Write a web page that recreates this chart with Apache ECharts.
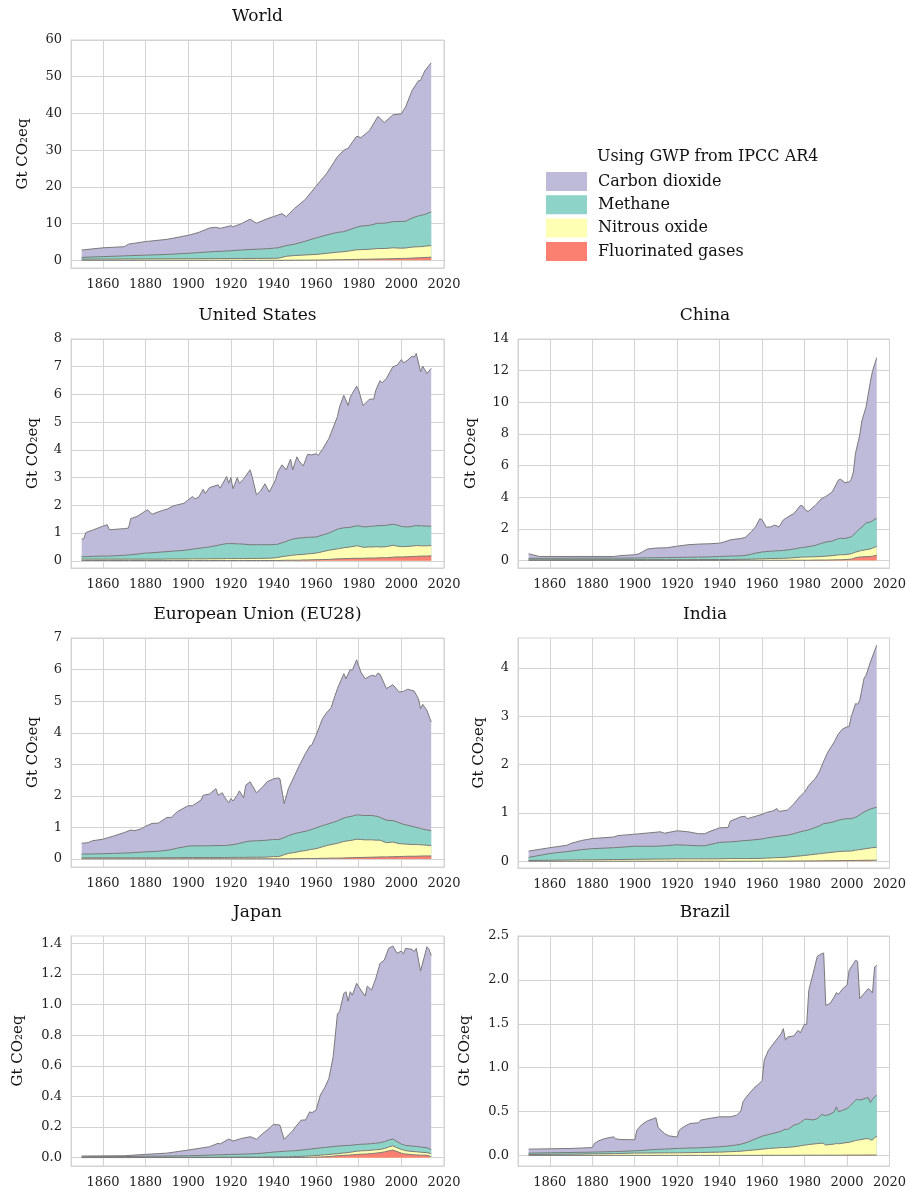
<!DOCTYPE html>
<html>
<head>
<meta charset="utf-8">
<script src="https://cdn.jsdelivr.net/npm/echarts@6/dist/echarts.min.js"></script>
<style>
html,body{margin:0;padding:0;background:#fff;}
#chart{width:909px;height:1189px;}
</style>
</head>
<body>
<div id="chart"></div>
<script>
// ---------- DATA (Gt CO2eq, GWP from IPCC AR4) ----------
const GASES = ['Carbon dioxide', 'Methane', 'Nitrous oxide', 'Fluorinated gases'];
const X_TICKS = [1860, 1880, 1900, 1920, 1940, 1960, 1980, 2000, 2020];

const WORLD_YEARS = [1850,1860,1870,1872,1880,1890,1900,1905,1910,1913,1915,1920,1921,1925,1929,1932,1937,1940,1942,1944,1946,1950,1955,1960,1965,1970,1973,1975,1979,1981,1985,1989,1992,1996,2000,2002,2005,2008,2009,2011,2014];
const WORLD_CO2 = [2.0,2.4,2.5,3.15,3.7,4.1,4.9,5.5,6.5,6.6,6.25,6.8,6.45,7.2,8.25,7.1,8.15,8.6,8.9,9.0,7.9,9.8,11.4,14.1,16.8,20.6,22.2,22.3,24.8,24.1,25.8,29.1,27.4,29.1,29.3,31.2,34.7,36.8,36.8,39.1,40.6];
const WORLD_CH4 = [0.5,0.68,0.85,0.9,1.02,1.2,1.48,1.66,1.85,1.94,1.98,2.12,2.17,2.3,2.45,2.48,2.62,2.75,2.84,2.9,2.9,3.1,3.75,4.5,5.0,5.4,5.45,5.7,6.15,6.4,6.5,6.9,6.9,7.1,7.3,7.25,7.9,8.4,8.5,8.65,9.2];
const WORLD_N2O = [0.3,0.32,0.35,0.35,0.38,0.4,0.42,0.44,0.45,0.46,0.47,0.48,0.48,0.5,0.5,0.52,0.53,0.55,0.56,0.8,1.09,1.28,1.41,1.54,1.8,2.05,2.17,2.3,2.61,2.64,2.7,2.85,2.82,2.97,2.8,2.83,3.0,3.02,3.0,3.1,3.15];
const WORLD_FGAS = [0,0,0,0,0,0,0,0,0,0,0,0,0,0,0,0,0,0,0,0,0.01,0.02,0.04,0.06,0.1,0.15,0.18,0.2,0.24,0.26,0.3,0.35,0.38,0.43,0.5,0.52,0.6,0.68,0.7,0.75,0.85];
const WORLD_YTICKS = [0,10,20,30,40,50,60];

const US_YEARS = [1850,1851,1852,1855,1860,1862,1863,1870,1872,1873,1876,1880,1881,1883,1888,1890,1893,1898,1902,1903,1905,1907,1908,1910,1914,1915,1918,1919,1920,1921,1923,1924,1926,1929,1930,1932,1934,1936,1938,1941,1942,1944,1946,1948,1949,1951,1952,1954,1956,1958,1960,1961,1963,1966,1970,1971,1973,1975,1976,1979,1980,1982,1983,1985,1987,1988,1990,1991,1993,1996,1998,2000,2001,2003,2005,2006,2007,2009,2010,2012,2014];
const US_CO2 = [0.63,0.65,0.87,0.94,1.08,1.13,0.95,0.96,0.97,1.30,1.36,1.52,1.56,1.39,1.50,1.53,1.63,1.70,1.90,1.80,1.85,2.11,1.95,2.14,2.18,2.04,2.42,2.18,2.38,1.98,2.39,2.19,2.35,2.70,2.46,1.80,1.94,2.20,1.90,2.33,2.60,2.81,2.58,2.91,2.50,2.94,2.78,2.59,2.99,2.97,3.00,2.92,3.09,3.41,4.06,4.39,4.78,4.40,4.69,5.04,4.89,4.37,4.45,4.59,4.58,4.89,5.23,5.15,5.30,5.68,5.76,6.02,5.91,6.02,6.14,6.09,6.21,5.56,5.76,5.51,5.69];
const US_CH4 = [0.09,0.09,0.09,0.10,0.11,0.11,0.11,0.14,0.15,0.16,0.18,0.22,0.22,0.23,0.26,0.265,0.285,0.31,0.35,0.36,0.38,0.40,0.41,0.425,0.485,0.505,0.54,0.54,0.54,0.54,0.53,0.53,0.52,0.495,0.495,0.495,0.495,0.49,0.49,0.48,0.48,0.50,0.53,0.57,0.58,0.59,0.60,0.60,0.60,0.59,0.58,0.59,0.60,0.62,0.71,0.72,0.72,0.71,0.71,0.72,0.73,0.74,0.73,0.74,0.75,0.75,0.77,0.77,0.77,0.76,0.76,0.73,0.72,0.70,0.71,0.72,0.72,0.72,0.72,0.71,0.70];
const US_N2O = [0.05,0.05,0.05,0.05,0.05,0.05,0.05,0.05,0.05,0.05,0.05,0.05,0.05,0.05,0.05,0.055,0.055,0.055,0.06,0.06,0.06,0.06,0.06,0.065,0.065,0.065,0.07,0.07,0.07,0.07,0.07,0.07,0.07,0.075,0.075,0.075,0.075,0.08,0.08,0.10,0.11,0.135,0.15,0.17,0.18,0.20,0.20,0.20,0.22,0.225,0.24,0.25,0.285,0.33,0.36,0.37,0.39,0.41,0.415,0.45,0.44,0.40,0.395,0.40,0.40,0.41,0.39,0.39,0.40,0.43,0.39,0.37,0.37,0.37,0.38,0.38,0.39,0.37,0.37,0.37,0.37];
const US_FGAS = [0.01,0.01,0.01,0.01,0.01,0.01,0.01,0.01,0.01,0.01,0.01,0.01,0.01,0.01,0.01,0.01,0.01,0.01,0.01,0.01,0.01,0.01,0.01,0.01,0.01,0.01,0.01,0.01,0.01,0.01,0.01,0.01,0.01,0.01,0.01,0.01,0.01,0.01,0.01,0.01,0.01,0.015,0.02,0.02,0.02,0.02,0.02,0.03,0.03,0.035,0.04,0.04,0.045,0.05,0.07,0.07,0.08,0.08,0.085,0.09,0.09,0.09,0.095,0.10,0.10,0.10,0.11,0.11,0.11,0.13,0.14,0.14,0.14,0.15,0.15,0.16,0.16,0.17,0.17,0.17,0.18];
const US_YTICKS = [0,1,2,3,4,5,6,7,8];

const CHINA_YEARS = [1850,1855,1870,1890,1893,1900,1902,1906,1910,1915,1920,1925,1930,1935,1940,1942,1945,1950,1952,1955,1957,1959,1960,1962,1964,1966,1968,1970,1973,1975,1978,1979,1981,1982,1985,1988,1990,1993,1996,1997,1999,2001,2002,2003,2004,2006,2007,2009,2011,2012,2014];
const CHINA_CO2 = [0.29,0.12,0.11,0.105,0.155,0.21,0.265,0.555,0.61,0.62,0.71,0.79,0.82,0.83,0.84,0.90,1.03,1.10,1.14,1.43,1.68,2.14,2.03,1.54,1.54,1.63,1.51,1.93,2.14,2.24,2.67,2.63,2.26,2.26,2.52,2.83,2.88,3.11,3.71,3.73,3.54,3.50,3.64,3.99,5.02,5.93,6.73,7.33,8.87,9.46,10.15];
const CHINA_CH4 = [0.09,0.09,0.095,0.095,0.095,0.10,0.105,0.115,0.12,0.13,0.14,0.15,0.155,0.165,0.19,0.20,0.21,0.22,0.24,0.32,0.37,0.41,0.43,0.45,0.46,0.48,0.48,0.50,0.53,0.55,0.60,0.61,0.64,0.65,0.72,0.83,0.89,0.92,1.03,1.04,1.02,1.06,1.07,1.13,1.23,1.40,1.48,1.70,1.70,1.72,1.79];
const CHINA_N2O = [0.04,0.04,0.045,0.05,0.05,0.05,0.05,0.05,0.05,0.05,0.05,0.05,0.055,0.055,0.06,0.06,0.06,0.06,0.06,0.07,0.08,0.09,0.09,0.10,0.11,0.11,0.12,0.12,0.14,0.16,0.19,0.20,0.20,0.21,0.21,0.23,0.25,0.27,0.31,0.32,0.31,0.33,0.34,0.35,0.35,0.38,0.40,0.44,0.47,0.51,0.56];
const CHINA_FGAS = [0,0,0,0,0,0,0,0,0,0,0,0,0,0,0,0,0,0.01,0.01,0.01,0.01,0.01,0.01,0.01,0.01,0.01,0.01,0.01,0.01,0.01,0.01,0.01,0.01,0.01,0.02,0.02,0.02,0.03,0.04,0.04,0.05,0.07,0.08,0.12,0.17,0.22,0.22,0.24,0.25,0.27,0.32];
const CHINA_YTICKS = [0,2,4,6,8,10,12,14];

const EU_YEARS = [1850,1853,1855,1860,1865,1870,1873,1875,1878,1880,1883,1886,1890,1892,1895,1900,1902,1906,1907,1910,1913,1914,1916,1917,1919,1920,1921,1923,1924,1926,1927,1929,1932,1935,1937,1940,1942,1943,1945,1947,1950,1952,1955,1957,1958,1960,1963,1965,1967,1970,1973,1974,1976,1977,1979,1981,1983,1986,1988,1989,1990,1993,1996,1999,2001,2003,2006,2008,2009,2010,2012,2014];
const EU_CO2 = [0.34,0.36,0.415,0.46,0.55,0.65,0.72,0.69,0.74,0.81,0.89,0.89,1.04,1.02,1.16,1.28,1.27,1.45,1.60,1.64,1.80,1.59,1.67,1.54,1.34,1.47,1.38,1.54,1.66,1.41,1.79,1.88,1.52,1.70,1.85,1.92,1.95,1.92,1.08,1.49,1.85,2.11,2.46,2.66,2.67,2.93,3.39,3.54,3.65,4.19,4.57,4.39,4.65,4.62,4.91,4.53,4.33,4.44,4.43,4.54,4.53,4.17,4.30,4.14,4.21,4.31,4.30,4.09,3.79,3.95,3.79,3.44];
const EU_CH4 = [0.12,0.12,0.125,0.13,0.14,0.15,0.16,0.17,0.18,0.19,0.20,0.21,0.235,0.255,0.305,0.36,0.37,0.37,0.37,0.37,0.38,0.38,0.38,0.38,0.39,0.395,0.405,0.425,0.445,0.475,0.495,0.51,0.52,0.53,0.535,0.54,0.54,0.54,0.54,0.56,0.60,0.60,0.61,0.62,0.63,0.66,0.67,0.67,0.68,0.71,0.74,0.75,0.76,0.76,0.77,0.77,0.77,0.77,0.76,0.75,0.72,0.71,0.68,0.66,0.62,0.60,0.56,0.53,0.52,0.50,0.48,0.47];
const EU_N2O = [0.03,0.03,0.03,0.03,0.03,0.03,0.03,0.03,0.03,0.03,0.03,0.03,0.035,0.035,0.035,0.04,0.04,0.04,0.04,0.04,0.04,0.04,0.04,0.04,0.04,0.045,0.045,0.045,0.045,0.045,0.045,0.05,0.05,0.05,0.055,0.07,0.07,0.08,0.13,0.17,0.195,0.225,0.25,0.28,0.29,0.31,0.365,0.405,0.43,0.47,0.525,0.53,0.55,0.555,0.58,0.57,0.555,0.55,0.535,0.535,0.53,0.45,0.465,0.41,0.395,0.38,0.37,0.365,0.355,0.35,0.34,0.33];
const EU_FGAS = [0.01,0.01,0.01,0.01,0.01,0.01,0.01,0.01,0.01,0.01,0.01,0.01,0.01,0.01,0.01,0.01,0.01,0.01,0.01,0.01,0.01,0.01,0.01,0.01,0.01,0.01,0.01,0.01,0.01,0.01,0.01,0.01,0.01,0.01,0.01,0.01,0.01,0.01,0.01,0.01,0.015,0.015,0.02,0.02,0.02,0.02,0.025,0.025,0.03,0.03,0.035,0.04,0.04,0.045,0.05,0.05,0.055,0.06,0.065,0.065,0.07,0.07,0.075,0.08,0.085,0.09,0.09,0.095,0.095,0.10,0.10,0.10];
const EU_YTICKS = [0,1,2,3,4,5,6,7];

const INDIA_YEARS = [1850,1860,1868,1870,1875,1880,1890,1892,1900,1910,1912,1914,1920,1925,1930,1933,1935,1938,1940,1944,1945,1950,1952,1953,1960,1962,1965,1967,1968,1972,1975,1978,1980,1982,1985,1987,1989,1991,1994,1996,1998,2000,2001,2002,2004,2005,2006,2008,2009,2011,2014];
const INDIA_CO2 = [0.13,0.12,0.13,0.16,0.19,0.21,0.22,0.245,0.25,0.29,0.295,0.26,0.29,0.28,0.25,0.25,0.27,0.29,0.30,0.30,0.43,0.50,0.50,0.45,0.51,0.53,0.54,0.58,0.51,0.52,0.62,0.74,0.80,0.92,1.01,1.12,1.29,1.47,1.65,1.79,1.87,1.90,1.91,2.11,2.35,2.32,2.37,2.76,2.81,3.04,3.35];
const INDIA_CH4 = [0.065,0.14,0.175,0.185,0.21,0.23,0.245,0.25,0.27,0.265,0.27,0.275,0.29,0.28,0.27,0.27,0.29,0.32,0.34,0.345,0.345,0.365,0.375,0.375,0.40,0.415,0.43,0.435,0.445,0.455,0.47,0.50,0.51,0.52,0.555,0.575,0.615,0.615,0.63,0.65,0.665,0.67,0.67,0.67,0.68,0.695,0.72,0.765,0.78,0.805,0.83];
const INDIA_N2O = [0.015,0.02,0.025,0.025,0.03,0.03,0.035,0.035,0.04,0.045,0.045,0.045,0.05,0.05,0.05,0.05,0.05,0.05,0.05,0.055,0.055,0.055,0.055,0.055,0.058,0.063,0.068,0.073,0.073,0.082,0.096,0.105,0.115,0.124,0.138,0.147,0.156,0.165,0.179,0.188,0.192,0.196,0.196,0.195,0.214,0.218,0.222,0.236,0.24,0.255,0.268];
const INDIA_FGAS = [0,0,0,0,0,0,0,0,0,0,0,0,0,0,0,0,0,0,0,0,0,0,0,0,0.002,0.002,0.002,0.002,0.002,0.003,0.004,0.005,0.005,0.006,0.007,0.008,0.009,0.01,0.011,0.012,0.013,0.014,0.014,0.015,0.016,0.017,0.018,0.019,0.02,0.02,0.022];
const INDIA_YTICKS = [0,1,2,3,4];

const JAPAN_YEARS = [1850,1870,1880,1890,1900,1905,1910,1914,1915,1919,1921,1925,1929,1930,1932,1935,1938,1940,1943,1945,1947,1949,1951,1953,1955,1957,1958,1960,1962,1964,1966,1968,1970,1971,1973,1974,1975,1976,1977,1979,1981,1983,1984,1986,1988,1990,1992,1994,1996,1998,2000,2001,2002,2005,2006,2007,2009,2012,2013,2014];
const JAPAN_CO2 = [0.005,0.005,0.012,0.019,0.037,0.046,0.055,0.075,0.071,0.101,0.087,0.103,0.112,0.107,0.093,0.129,0.158,0.181,0.173,0.078,0.104,0.131,0.166,0.196,0.193,0.244,0.236,0.250,0.345,0.390,0.448,0.587,0.862,0.877,0.994,1.004,0.943,1.003,0.980,1.053,1.007,0.967,1.031,1.003,1.076,1.171,1.186,1.252,1.261,1.230,1.261,1.245,1.287,1.285,1.271,1.293,1.149,1.313,1.300,1.267];
const JAPAN_CH4 = [0.004,0.006,0.007,0.008,0.010,0.012,0.014,0.016,0.016,0.017,0.018,0.019,0.021,0.022,0.023,0.026,0.029,0.032,0.035,0.036,0.038,0.038,0.039,0.041,0.043,0.044,0.045,0.046,0.047,0.048,0.049,0.049,0.050,0.049,0.048,0.048,0.046,0.045,0.044,0.044,0.043,0.043,0.043,0.043,0.043,0.044,0.045,0.045,0.044,0.040,0.035,0.035,0.034,0.035,0.035,0.035,0.034,0.032,0.030,0.026];
const JAPAN_N2O = [0.001,0.001,0.002,0.002,0.002,0.002,0.002,0.002,0.002,0.003,0.003,0.003,0.003,0.003,0.003,0.003,0.004,0.004,0.004,0.005,0.005,0.005,0.006,0.007,0.008,0.009,0.010,0.011,0.012,0.013,0.013,0.014,0.013,0.014,0.016,0.016,0.017,0.018,0.019,0.021,0.022,0.022,0.022,0.022,0.022,0.021,0.022,0.025,0.028,0.025,0.024,0.023,0.022,0.021,0.021,0.021,0.019,0.017,0.018,0.019];
const JAPAN_FGAS = [0.001,0.001,0.001,0.001,0.001,0.001,0.001,0.001,0.001,0.001,0.001,0.001,0.001,0.001,0.001,0.001,0.001,0.001,0.001,0.001,0.001,0.002,0.002,0.002,0.002,0.003,0.003,0.004,0.005,0.006,0.008,0.010,0.013,0.014,0.015,0.016,0.017,0.018,0.019,0.021,0.023,0.024,0.025,0.027,0.030,0.033,0.038,0.045,0.050,0.040,0.030,0.027,0.024,0.020,0.019,0.018,0.017,0.016,0.012,0.007];
const JAPAN_YTICKS = [0,0.2,0.4,0.6,0.8,1.0,1.2,1.4];

const BRAZIL_YEARS = [1850,1870,1880,1881,1883,1886,1890,1891,1893,1900,1901,1903,1906,1910,1911,1914,1916,1920,1921,1923,1926,1930,1931,1935,1940,1945,1948,1950,1951,1953,1956,1959,1960,1961,1963,1966,1969,1970,1971,1972,1975,1977,1978,1980,1981,1982,1984,1986,1988,1989,1990,1992,1994,1995,1996,1998,2000,2001,2003,2004,2005,2006,2008,2010,2011,2012,2013,2014];
const BRAZIL_CO2 = [0.045,0.046,0.052,0.098,0.127,0.151,0.168,0.145,0.136,0.125,0.234,0.288,0.333,0.361,0.250,0.177,0.149,0.129,0.207,0.243,0.279,0.285,0.314,0.328,0.341,0.330,0.339,0.376,0.476,0.529,0.583,0.617,0.630,0.859,0.961,1.038,1.112,1.155,1.013,1.055,1.017,1.066,1.021,1.085,1.076,1.472,1.665,1.848,1.832,1.846,1.256,1.260,1.309,1.301,1.339,1.385,1.404,1.554,1.582,1.593,1.572,1.157,1.199,1.240,1.279,1.211,1.479,1.479];
const BRAZIL_CH4 = [0.016,0.020,0.020,0.021,0.021,0.022,0.023,0.023,0.023,0.026,0.027,0.029,0.034,0.039,0.040,0.044,0.045,0.050,0.051,0.052,0.053,0.053,0.054,0.057,0.061,0.067,0.074,0.080,0.084,0.094,0.118,0.141,0.148,0.152,0.159,0.172,0.186,0.199,0.210,0.203,0.246,0.255,0.265,0.292,0.295,0.285,0.275,0.285,0.327,0.325,0.337,0.345,0.367,0.417,0.364,0.375,0.387,0.405,0.441,0.460,0.465,0.452,0.457,0.467,0.423,0.465,0.463,0.471];
const BRAZIL_N2O = [0.010,0.013,0.017,0.017,0.018,0.019,0.020,0.021,0.022,0.026,0.026,0.027,0.027,0.028,0.028,0.028,0.029,0.029,0.029,0.030,0.031,0.033,0.033,0.035,0.037,0.042,0.045,0.048,0.050,0.055,0.061,0.068,0.070,0.072,0.077,0.082,0.088,0.089,0.088,0.090,0.097,0.103,0.108,0.115,0.117,0.122,0.127,0.132,0.137,0.132,0.115,0.122,0.127,0.134,0.130,0.137,0.144,0.146,0.158,0.166,0.171,0.174,0.184,0.188,0.175,0.170,0.200,0.211];
const BRAZIL_FGAS = [0.001,0.001,0.001,0.001,0.001,0.001,0.001,0.001,0.001,0.001,0.001,0.001,0.001,0.001,0.001,0.001,0.001,0.001,0.001,0.001,0.001,0.001,0.001,0.001,0.001,0.001,0.001,0.001,0.001,0.001,0.001,0.001,0.002,0.002,0.002,0.002,0.002,0.002,0.002,0.002,0.002,0.002,0.002,0.003,0.003,0.003,0.003,0.003,0.003,0.003,0.003,0.003,0.003,0.003,0.003,0.003,0.004,0.004,0.004,0.004,0.004,0.004,0.004,0.005,0.005,0.005,0.005,0.005];
const BRAZIL_YTICKS = [0,0.5,1.0,1.5,2.0,2.5];

// ---------- LAYOUT / STYLE ----------
const FONT = '"DejaVu Serif", "Liberation Serif", serif';
const COLORS = {
  'Carbon dioxide': '#bebada',
  'Methane': '#8dd3c7',
  'Nitrous oxide': '#ffffb3',
  'Fluorinated gases': '#fb8072'
};
const GRID_COLOR = '#d3d3d3';
const EDGE_COLOR = '#7a7a7a';

const PANELS = [
  {title:'World', years:WORLD_YEARS, co2:WORLD_CO2, ch4:WORLD_CH4, n2o:WORLD_N2O, f:WORLD_FGAS, ticks:WORLD_YTICKS, dec:0,
   left:71, top:40, width:373, height:228, ymin:-2.1, ymax:60, nameGap:40},
  {title:'United States', years:US_YEARS, co2:US_CO2, ch4:US_CH4, n2o:US_N2O, f:US_FGAS, ticks:US_YTICKS, dec:0,
   left:71, top:339, width:373, height:229, ymin:-0.26, ymax:8, nameGap:30},
  {title:'China', years:CHINA_YEARS, co2:CHINA_CO2, ch4:CHINA_CH4, n2o:CHINA_N2O, f:CHINA_FGAS, ticks:CHINA_YTICKS, dec:0,
   left:518, top:339, width:374, height:229, ymin:-0.48, ymax:14, nameGap:39},
  {title:'European Union (EU28)', years:EU_YEARS, co2:EU_CO2, ch4:EU_CH4, n2o:EU_N2O, f:EU_FGAS, ticks:EU_YTICKS, dec:0,
   left:71, top:638, width:373, height:229, ymin:-0.25, ymax:7, nameGap:30},
  {title:'India', years:INDIA_YEARS, co2:INDIA_CO2, ch4:INDIA_CH4, n2o:INDIA_N2O, f:INDIA_FGAS, ticks:INDIA_YTICKS, dec:0,
   left:518, top:638, width:374, height:230, ymin:-0.14, ymax:4.62, nameGap:31},
  {title:'Japan', years:JAPAN_YEARS, co2:JAPAN_CO2, ch4:JAPAN_CH4, n2o:JAPAN_N2O, f:JAPAN_FGAS, ticks:JAPAN_YTICKS, dec:1,
   left:71, top:936, width:373, height:230, ymin:-0.054, ymax:1.448, nameGap:45},
  {title:'Brazil', years:BRAZIL_YEARS, co2:BRAZIL_CO2, ch4:BRAZIL_CH4, n2o:BRAZIL_N2O, f:BRAZIL_FGAS, ticks:BRAZIL_YTICKS, dec:1,
   left:518, top:936, width:374, height:230, ymin:-0.12, ymax:2.5, nameGap:45}
];

// ---------- BUILD OPTION ----------
const grids = [], xAxes = [], yAxes = [], series = [], titles = [];
PANELS.forEach((p, i) => {
  grids.push({left:p.left, top:p.top, width:p.width, height:p.height, show:true,
    borderColor:GRID_COLOR, borderWidth:1, backgroundColor:'transparent', containLabel:false});
  titles.push({text:p.title, left:p.left + p.width/2, top:p.top - 32, textAlign:'center', padding:0,
    textStyle:{fontFamily:FONT, fontSize:17, fontWeight:'normal', color:'#111'}});
  xAxes.push({type:'value', gridIndex:i, min:1845, max:2020,
    axisLine:{show:true, onZero:false, lineStyle:{color:GRID_COLOR, width:1}},
    axisTick:{show:false, customValues:X_TICKS},
    axisLabel:{customValues:X_TICKS, margin:10, fontFamily:FONT, fontSize:13, color:'#222',
      formatter:v => String(Math.round(v))},
    splitLine:{show:true, lineStyle:{color:GRID_COLOR, width:1}}});
  yAxes.push({type:'value', gridIndex:i, min:p.ymin, max:p.ymax,
    name:'Gt CO\u2082eq', nameLocation:'middle', nameRotate:90, nameGap:p.nameGap,
    nameTextStyle:{fontFamily:FONT, fontSize:15, color:'#111'},
    axisLine:{show:true, onZero:false, lineStyle:{color:GRID_COLOR, width:1}},
    axisTick:{show:false, customValues:p.ticks},
    axisLabel:{customValues:p.ticks, margin:9, fontFamily:FONT, fontSize:13, color:'#222',
      formatter:v => Number(v).toFixed(p.dec)},
    splitLine:{show:true, lineStyle:{color:GRID_COLOR, width:1}}});
  // Layers stacked bottom -> top: fluorinated, nitrous, methane, carbon dioxide.
  // Running sums give each layer's upper edge; layers are drawn top-first, each filled to zero.
  const bottomUp = [['Fluorinated gases', p.f], ['Nitrous oxide', p.n2o], ['Methane', p.ch4], ['Carbon dioxide', p.co2]];
  const run = p.years.map(() => 0);
  const edges = bottomUp.map(([name, vals]) => {
    vals.forEach((v, k) => { run[k] = +(run[k] + v).toFixed(4); });
    return [name, run.slice()];
  });
  edges.reverse().forEach(([name, top], layer) => {
    series.push({type:'line', name:name, xAxisIndex:i, yAxisIndex:i, z:2 + layer,
      symbol:'none', showSymbol:false, smooth:false, silent:true,
      data:p.years.map((y, k) => [y, top[k]]),
      itemStyle:{color:COLORS[name]},
      lineStyle:{color:EDGE_COLOR, width:1},
      areaStyle:{color:COLORS[name], opacity:1, origin:0}});
  });
});
titles.push({text:'Using GWP from IPCC AR4', left:597, top:149, padding:0,
  textStyle:{fontFamily:FONT, fontSize:16, fontWeight:'normal', color:'#111'}});

const option = {
  animation:false,
  backgroundColor:'#ffffff',
  title:titles,
  legend:{
    orient:'vertical', left:546, top:172, padding:0,
    itemWidth:41, itemHeight:19, itemGap:4.3, icon:'rect',
    selectedMode:false,
    textStyle:{fontFamily:FONT, fontSize:16, color:'#111', padding:[0,0,0,6]},
    data:GASES.map(n => ({name:n, itemStyle:{color:COLORS[n], borderWidth:0}}))
  },
  grid:grids, xAxis:xAxes, yAxis:yAxes, series:series
};

const chart = echarts.init(document.getElementById('chart'), null, {renderer:'canvas'});
chart.setOption(option);
</script>
</body>
</html>
